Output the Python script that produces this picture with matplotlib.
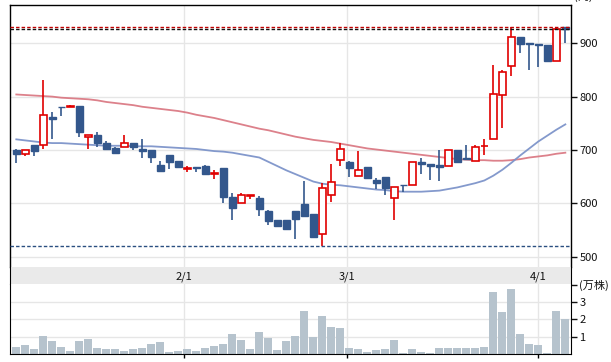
import matplotlib
matplotlib.use("Agg")
import matplotlib.pyplot as plt
import numpy as np

plt.rcParams['font.family'] = ['Noto Sans CJK JP', 'DejaVu Sans']

# ---- data ----
opens = [700, 692, 710, 709, 761, 781, 780, 783, 724, 728, 713, 703, 705, 713, 702, 700,
         672, 691, 680, 665, 668, 670, 655, 666, 612, 600, 614, 610, 585, 569, 569, 586,
         599, 580, 542, 615, 681, 677, 651, 668, 644, 650, 610, 635, 634, 678, 673, 672,
         670, 700, 684, 679, 707, 720, 803, 858, 911, 900, 899, 897, 866, 930]
highs = [701, 700, 710, 831, 772, 781, 784, 783, 729, 734, 717, 706, 728, 713, 721, 700,
         680, 691, 680, 670, 668, 672, 663, 667, 619, 619, 616, 614, 588, 569, 569, 586,
         642, 580, 638, 674, 713, 680, 698, 668, 647, 650, 631, 635, 677, 685, 673, 700,
         700, 700, 710, 709, 721, 859, 850, 930, 911, 900, 899, 897, 930, 930]
lows = [675, 689, 689, 701, 721, 764, 780, 725, 701, 706, 700, 693, 705, 700, 685, 675,
        659, 664, 667, 659, 659, 654, 645, 601, 569, 600, 608, 577, 560, 558, 551, 533,
        574, 538, 520, 603, 671, 650, 651, 647, 627, 616, 569, 621, 634, 655, 644, 642,
        670, 675, 682, 679, 691, 720, 742, 839, 881, 850, 856, 866, 866, 901]
closes = [692, 700, 699, 766, 759, 780, 783, 733, 728, 714, 701, 694, 713, 706, 698, 687,
          660, 678, 668, 666, 667, 655, 656, 612, 592, 615, 615, 590, 568, 558, 552, 571,
          577, 538, 628, 641, 702, 667, 662, 647, 639, 628, 630, 634, 677, 673, 671, 669,
          700, 678, 683, 706, 708, 805, 846, 911, 899, 899, 896, 866, 926, 926]
volumes = [0.40, 0.52, 0.29, 1.04, 0.75, 0.38, 0.17, 0.75, 0.87, 0.35, 0.29, 0.29, 0.17,
           0.29, 0.35, 0.58, 0.69, 0.12, 0.17, 0.29, 0.17, 0.35, 0.46, 0.58, 1.15, 0.81,
           0.29, 1.27, 0.92, 0.23, 0.75, 1.04, 2.48, 0.98, 2.19, 1.56, 1.50, 0.35, 0.29,
           0.12, 0.23, 0.29, 0.81, 0.06, 0.29, 0.12, 0.03, 0.35, 0.35, 0.35, 0.35, 0.35,
           0.40, 3.56, 2.40, 3.73, 1.13, 0.56, 0.50, 0.03, 2.46, 2.00]
ma_long = [804, 803, 802, 801, 800, 798, 797, 796, 795, 793, 790, 788, 786, 784, 781, 779,
           777, 775, 773, 770, 766, 763, 760, 756, 752, 748, 744, 740, 737, 733, 729, 725,
           722, 719, 717, 715, 712, 709, 706, 703, 701, 699, 697, 695, 693, 691, 689, 687,
           685, 683, 682, 681, 681, 680, 680, 681, 683, 686, 688, 690, 693, 695]
ma_short = [720, 718, 716, 714, 713, 713, 712, 711, 710, 709, 708, 708, 708, 707, 707, 707,
            706, 705, 704, 703, 702, 700, 698, 697, 695, 692, 689, 686, 678, 670, 662, 655,
            648, 641, 637, 635, 634, 632, 630, 628, 626, 625, 623, 622, 622, 622, 623, 624,
            627, 630, 634, 638, 643, 652, 663, 676, 690, 703, 716, 727, 738, 748]
date_labels = ['2/1', '3/1', '4/1']
date_pos = [18.65, 36.7, 58.0]
price_ticks = [500, 600, 700, 800, 900]
vol_ticks = [1, 2, 3, 4]
vol_tick_labels = ['1', '2', '3', '(万株)']
line_high = 930
line_last = 926
line_low = 520

UP = '#E00000'
DOWN = '#33578C'
GRID = '#E6E6E6'

W, H = 611, 362
fig = plt.figure(figsize=(W / 100, H / 100), dpi=100)

def fx(px):
    return px / W

def fy(py):
    return 1 - py / H

left, right = 10, 571
ax = fig.add_axes([fx(left), fy(266.7), fx(right - left), (266.7 - 5) / H])
band = fig.add_axes([fx(left), fy(284.3), fx(right - left), (284.3 - 266.7) / H])
axv = fig.add_axes([fx(left), fy(354), fx(right - left), (354 - 284.3) / H])

n = len(opens)
x = np.arange(n)
o = np.array(opens, float)
c = np.array(closes, float)
h = np.array(highs, float)
l = np.array(lows, float)
up = c >= o
xlim = (-0.7, 61.63)

# price panel
ax.set_xlim(*xlim)
ax.set_ylim(481.6, 971.5)
for p in price_ticks:
    ax.axhline(p, color=GRID, lw=1, zorder=0)
for d in date_pos:
    ax.axvline(d, color=GRID, lw=1, zorder=0)

ax.plot(x, ma_long, color='#D9737E', lw=1.3, alpha=0.9, zorder=1)
ax.plot(x, ma_short, color='#7D94CA', lw=1.3, alpha=0.95, zorder=1)

cols = np.where(up, UP, DOWN)
ax.vlines(x, l, h, colors=cols, lw=1.2, zorder=2)
bw = 0.72
bottoms = np.minimum(o, c)
heights = np.maximum(np.abs(c - o), 1.2)
ax.bar(x[up], heights[up], bw, bottom=bottoms[up], facecolor='white',
       edgecolor=UP, linewidth=1.2, zorder=3)
ax.bar(x[~up], heights[~up], bw, bottom=bottoms[~up], facecolor=DOWN,
       edgecolor=DOWN, linewidth=1.0, zorder=3)

ax.axhline(line_high, color='#C00000', lw=1, ls=(0, (2.5, 1.5)), zorder=4)
ax.axhline(line_last, color='#111111', lw=1, ls=(0, (2.5, 1.5)), zorder=4)
ax.axhline(line_low, color='#2A4F80', lw=1, ls=(0, (2.5, 1.5)), zorder=4)

ax.set_xticks([])
ax.yaxis.tick_right()
ax.set_yticks(price_ticks)
ax.set_yticklabels([str(p) for p in price_ticks])
ax.tick_params(axis='y', length=4, width=1, pad=2, labelsize=8, colors='#111111')
for s in ['top', 'left', 'right']:
    ax.spines[s].set_color('black')
    ax.spines[s].set_linewidth(1)
ax.spines['bottom'].set_visible(False)

# date band
band.set_xlim(*xlim)
band.set_ylim(0, 1)
band.set_facecolor('#EAEAEA')
band.set_xticks([])
band.set_yticks([])
for s in ['top', 'bottom']:
    band.spines[s].set_visible(False)
for s in ['left', 'right']:
    band.spines[s].set_color('black')
for d, lab in zip(date_pos, date_labels):
    band.text(d, 0.45, lab, ha='center', va='center', fontsize=8, color='#111111')

# volume panel
axv.set_xlim(*xlim)
axv.set_ylim(0, 4.03)
for v in vol_ticks[:-1]:
    axv.axhline(v, color=GRID, lw=1, zorder=0)
for d in date_pos:
    axv.axvline(d, color=GRID, lw=1, zorder=0)
axv.bar(x, volumes, 0.88, color='#B6C3CD', zorder=2)
axv.yaxis.tick_right()
axv.set_yticks(vol_ticks)
axv.set_yticklabels(vol_tick_labels)
axv.tick_params(axis='y', length=4, width=1, pad=2, labelsize=8, colors='#111111')
axv.set_xticks(date_pos)
axv.set_xticklabels([])
axv.tick_params(axis='x', length=3, width=1, direction='out')
axv.spines['top'].set_visible(False)
for s in ['left', 'right', 'bottom']:
    axv.spines[s].set_color('black')

# unit label at the very top edge: the reference shows only its bottom pixel
fig.text(fx(574), 1 - 1.5 / H, '(円)', ha='left', va='bottom', fontsize=8, color='#111111')

fig.savefig('out.png', dpi=100)
